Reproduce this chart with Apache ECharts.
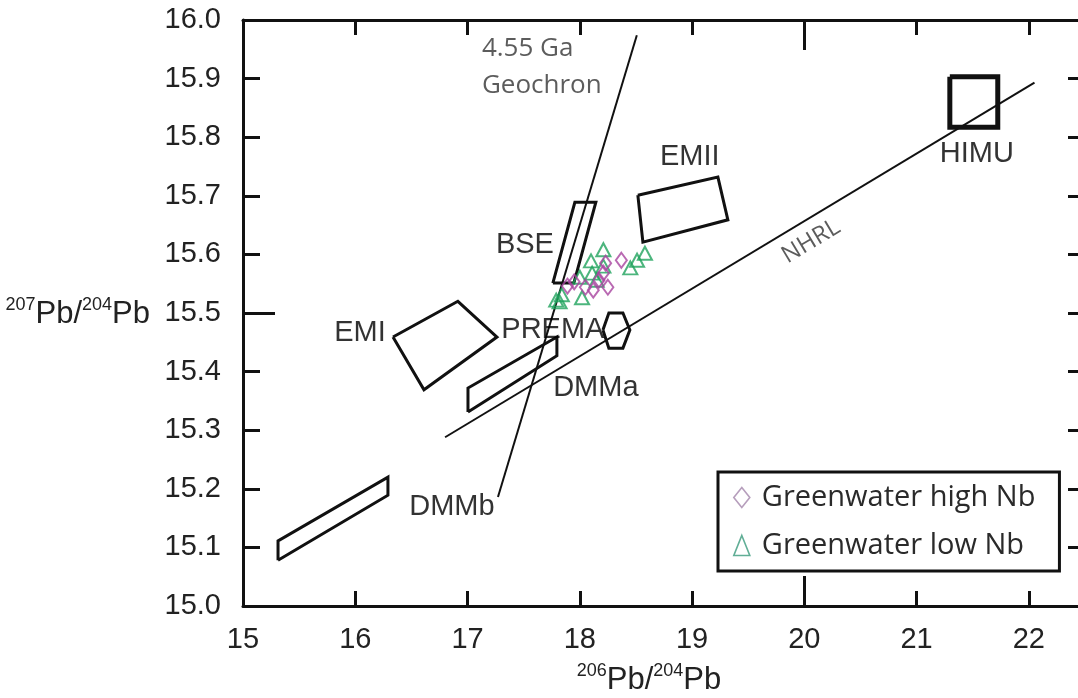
<!DOCTYPE html>
<html>
<head>
<meta charset="utf-8">
<script src="https://cdn.jsdelivr.net/npm/echarts@6/dist/echarts.min.js"></script>
<style>
  html, body { margin: 0; padding: 0; background: #ffffff; }
  #chart { width: 1078px; height: 698px; }
</style>
</head>
<body>
<div id="chart"></div>
<script>
// Greenwater lavas: 206Pb/204Pb (x) vs 207Pb/204Pb (y)
const highNb = [
  [18.37, 15.590], [18.23, 15.585], [18.21, 15.568], [17.95, 15.553],
  [18.05, 15.544], [18.12, 15.539], [18.25, 15.544], [18.17, 15.556],
  [17.89, 15.546]
];
const lowNb = [
  [18.21, 15.608], [18.10, 15.589], [18.21, 15.580], [18.58, 15.602],
  [18.51, 15.590], [18.45, 15.577], [18.11, 15.568], [18.00, 15.561],
  [17.84, 15.531], [18.02, 15.526], [17.82, 15.519], [18.15, 15.556],
  [17.79, 15.522]
];

// Mantle reservoir fields (polygon vertices)
const fieldBSE   = [[17.76, 15.551], [17.956, 15.689], [18.143, 15.689], [17.947, 15.551]];
const fieldEMII  = [[18.517, 15.701], [19.23, 15.732], [19.319, 15.659], [18.562, 15.621]];
const fieldEMI   = [[16.336, 15.459], [16.914, 15.520], [17.262, 15.459], [16.612, 15.369]];
const fieldPREMA = [[18.206, 15.471], [18.259, 15.500], [18.384, 15.500], [18.446, 15.471], [18.384, 15.440], [18.259, 15.440]];
const fieldDMMa  = [[17.004, 15.331], [17.004, 15.372], [17.796, 15.459], [17.796, 15.427]];
const fieldDMMb  = [[15.312, 15.078], [15.312, 15.111], [16.291, 15.220], [16.291, 15.189]];
const fieldHIMU  = [[21.296, 15.903], [21.723, 15.903], [21.723, 15.817], [21.296, 15.817]];

// Reference lines
const geochron = [[17.271, 15.186], [18.508, 15.974]];
const nhrl     = [[16.80, 15.288], [22.05, 15.893]];

// Field labels: [x, y, text]
const fieldLabels = [
  [18.98, 15.766, 'EMII'],
  [17.511, 15.616, 'BSE'],
  [16.042, 15.466, 'EMI'],
  [17.76, 15.471, 'PREMA'],
  [18.143, 15.372, 'DMMa'],
  [16.861, 15.169, 'DMMb'],
  [21.536, 15.771, 'HIMU']
];
const geochronLabel = [[17.128, 15.952, '4.55 Ga'], [17.128, 15.888, 'Geochron']];
const nhrlLabel = [[20.06, 15.622, 'NHRL']];

const xTicks = { min: 15, max: 22.5, step: 1, majorStep: 5 };
const yTicks = { min: 15.0, max: 16.0, step: 0.1, majorStep: 0.5 };

const SANS = '"Liberation Sans", Arial, Helvetica, sans-serif';
const HUMAN = '"Open Sans", "Noto Sans", sans-serif';
const COLOR_HIGH = '#a8449f';
const COLOR_LOW = '#1fa35c';

const closed = pts => pts.concat([pts[0]]);

function fieldSeries(name, pts, width) {
  return {
    name: name, type: 'line', data: closed(pts), symbol: 'none', silent: true,
    lineStyle: { color: '#111', width: width || 3, join: 'miter' },
    z: 3, animation: false
  };
}
function refLine(name, pts) {
  return {
    name: name, type: 'line', data: pts, symbol: 'none', silent: true,
    lineStyle: { color: '#111', width: 2 }, z: 2, animation: false
  };
}
function labelSeries(name, rows, label) {
  return {
    name: name, type: 'scatter', silent: true, symbolSize: 0, z: 6,
    itemStyle: { color: 'rgba(0,0,0,0)' },
    data: rows.map(r => ({ value: [r[0], r[1]], labelText: r[2] })),
    label: Object.assign({ show: true, position: [0, 0], align: 'center', verticalAlign: 'middle',
      textBorderWidth: 0, formatter: p => p.data.labelText }, label),
    animation: false
  };
}

const chart = echarts.init(document.getElementById('chart'), null, { renderer: 'canvas' });

const baseAxisLine = { show: true, lineStyle: { color: '#111', width: 3 } };
const nameRich = {
  b: { fontFamily: SANS, fontSize: 31, color: '#222', verticalAlign: 'bottom', lineHeight: 34 },
  sup: { fontFamily: SANS, fontSize: 18, color: '#222', verticalAlign: 'top', lineHeight: 34, padding: [0, 0, 14, 0] }
};

const option = {
  backgroundColor: '#ffffff',
  animation: false,
  // plot box runs a little past the right edge of the page
  grid: { left: 243, width: 842, top: 20, bottom: 92, containLabel: false, outerBoundsMode: 'none' },
  legend: {
    orient: 'vertical', left: 718, top: 472,
    padding: [11, 24, 11, 15], itemGap: 19,
    itemWidth: 16, itemHeight: 20,
    borderColor: '#111', borderWidth: 3, backgroundColor: '#fff',
    textStyle: { fontFamily: HUMAN, fontSize: 29, color: '#2a2a2a', lineHeight: 28, padding: [0, 0, 0, 7] },
    data: [
      { name: 'Greenwater high Nb', icon: 'diamond',
        itemStyle: { color: 'rgba(0,0,0,0)', borderColor: '#a486ab', borderWidth: 1.6 } },
      { name: 'Greenwater low Nb', icon: 'triangle',
        itemStyle: { color: 'rgba(0,0,0,0)', borderColor: '#3a9a7c', borderWidth: 1.6 } }
    ]
  },
  xAxis: [
    {
      type: 'value', position: 'bottom', min: xTicks.min, max: xTicks.max, interval: xTicks.step,
      axisLine: baseAxisLine, splitLine: { show: false },
      axisTick: { inside: true, length: 15, lineStyle: { color: '#111', width: 3 } },
      axisLabel: {
        margin: 19, color: '#222', fontFamily: SANS, fontSize: 29,
        formatter: v => (Math.abs(v - Math.round(v)) < 1e-6 && v < xTicks.max) ? String(Math.round(v)) : ''
      },
      name: '{sup|206}{b|Pb/}{sup|204}{b|Pb}',
      nameLocation: 'middle', nameGap: 56,
      nameTextStyle: { padding: [0, 30, 0, 0], rich: nameRich }
    },
    {
      type: 'value', position: 'bottom', min: xTicks.min, max: xTicks.max, interval: xTicks.majorStep,
      axisLine: { show: false }, splitLine: { show: false }, axisLabel: { show: false },
      axisTick: { inside: true, length: 30, lineStyle: { color: '#111', width: 3 } }
    },
    {
      type: 'value', position: 'top', min: xTicks.min, max: xTicks.max, interval: xTicks.step,
      axisLine: baseAxisLine, splitLine: { show: false }, axisLabel: { show: false },
      axisTick: { inside: true, length: 15, lineStyle: { color: '#111', width: 3 } }
    },
    {
      type: 'value', position: 'top', min: xTicks.min, max: xTicks.max, interval: xTicks.majorStep,
      axisLine: { show: false }, splitLine: { show: false }, axisLabel: { show: false },
      axisTick: { inside: true, length: 30, lineStyle: { color: '#111', width: 3 } }
    }
  ],
  yAxis: [
    {
      type: 'value', position: 'left', min: yTicks.min, max: yTicks.max, interval: yTicks.step,
      axisLine: baseAxisLine, splitLine: { show: false },
      axisTick: { inside: true, length: 17, lineStyle: { color: '#111', width: 3 } },
      axisLabel: { margin: 22, color: '#222', fontFamily: SANS, fontSize: 29, formatter: v => v.toFixed(1) },
      name: '{sup|207}{b|Pb/}{sup|204}{b|Pb}',
      nameLocation: 'middle', nameRotate: 0, nameGap: 93,
      nameTextStyle: { align: 'right', rich: nameRich }
    },
    {
      type: 'value', position: 'left', min: yTicks.min, max: yTicks.max, interval: yTicks.majorStep,
      axisLine: { show: false }, splitLine: { show: false }, axisLabel: { show: false },
      axisTick: { inside: true, length: 32, lineStyle: { color: '#111', width: 3 } }
    },
    {
      type: 'value', position: 'right', min: yTicks.min, max: yTicks.max, interval: yTicks.step,
      axisLine: baseAxisLine, splitLine: { show: false }, axisLabel: { show: false },
      axisTick: { inside: true, length: 17, lineStyle: { color: '#111', width: 3 } }
    }
  ],
  series: [
    refLine('Geochron', geochron),
    refLine('NHRL line', nhrl),
    fieldSeries('BSE', fieldBSE),
    fieldSeries('EMII', fieldEMII),
    fieldSeries('EMI', fieldEMI),
    fieldSeries('PREMA', fieldPREMA),
    fieldSeries('DMMa', fieldDMMa),
    fieldSeries('DMMb', fieldDMMb),
    fieldSeries('HIMU', fieldHIMU, 5),
    {
      name: 'Greenwater low Nb', type: 'scatter', data: lowNb,
      symbol: 'triangle', symbolSize: [14, 13], z: 5,
      itemStyle: { color: 'rgba(0,0,0,0)', borderColor: COLOR_LOW, borderWidth: 2 }
    },
    {
      name: 'Greenwater high Nb', type: 'scatter', data: highNb,
      symbol: 'diamond', symbolSize: [11, 15], z: 5,
      itemStyle: { color: 'rgba(0,0,0,0)', borderColor: COLOR_HIGH, borderWidth: 2 }
    },
    labelSeries('field labels', fieldLabels,
      { fontFamily: SANS, fontSize: 29, color: '#000' }),
    labelSeries('geochron label', geochronLabel,
      { fontFamily: HUMAN, fontSize: 26, color: '#333', align: 'left' }),
    labelSeries('nhrl label', nhrlLabel,
      { fontFamily: HUMAN, fontSize: 24, color: '#333', rotate: 31 })
  ]
};

chart.setOption(option);
</script>
</body>
</html>
